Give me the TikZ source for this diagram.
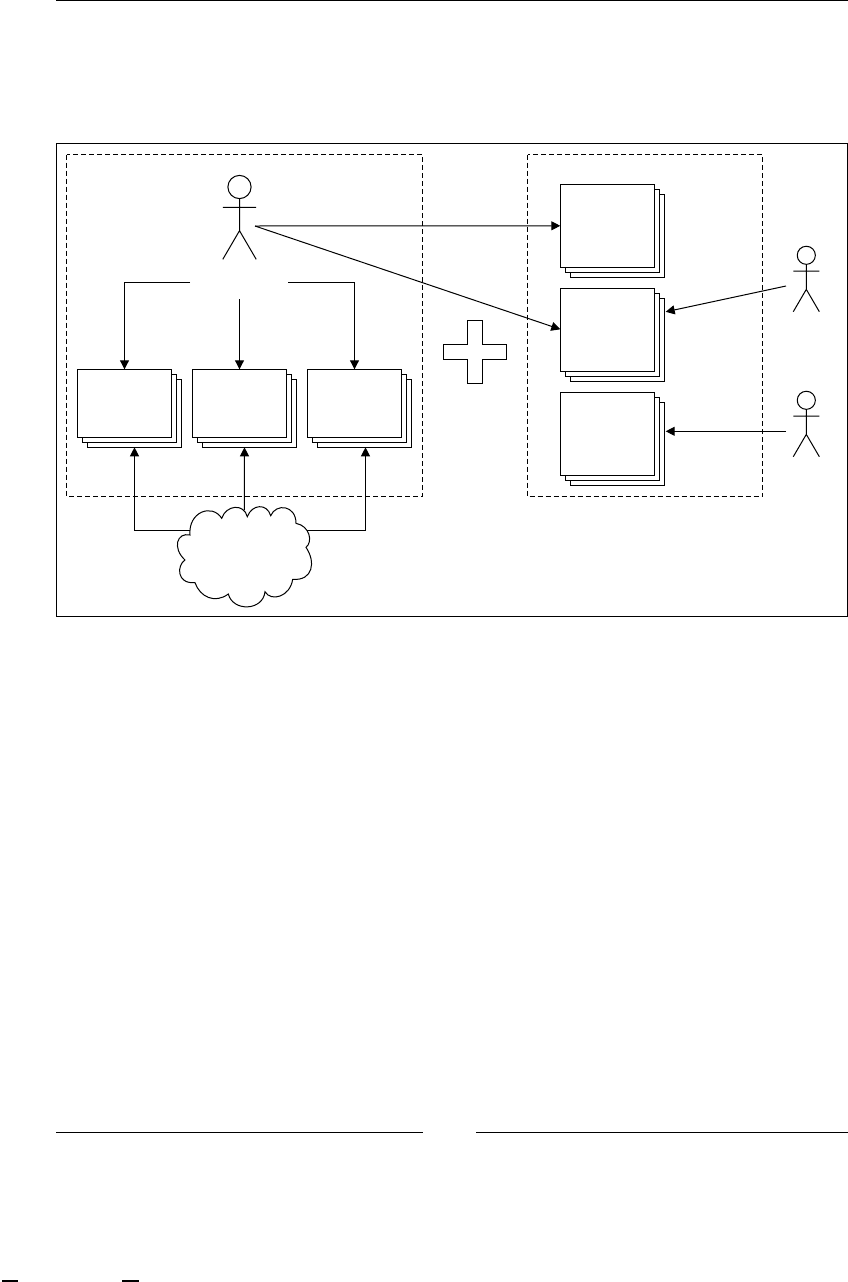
\documentclass[tikz,border=0pt]{standalone}
\usepackage{tikz}
\usetikzlibrary{arrows.meta, positioning, calc, shadows}

\tikzset{
    actor/.pic={
        \draw[fig] (0,0) circle (11.6);
        \draw[fig] (0,11.6) -- (0,43.7) -- (-16.7,72.3) (0,43.7) -- (16.7,72.3) (-16.7,20.3) -- (16.7,20.3);
    }
}

\begin{document}
\begin{tikzpicture}[
        x=1pt, y=-1pt,
        fig/.style={draw, line width=1pt},
        docs/.style={fig, fill=white, outer sep=0pt, inner sep=0pt, double copy shadow={shadow xshift=5pt, shadow yshift=-5pt, fill=white, draw, line width=1pt}},
        wide/.style={docs, minimum width=94.4pt, minimum height=68pt},
        tall/.style={docs, minimum width=94.4pt, minimum height=83pt},
        arr/.style={-{Triangle[length=9pt, width=9pt]}, line width=1pt},
        group/.style={draw, line width=1pt, dash pattern=on 5pt off 3pt},
        rule/.style={line width=1.3pt}
    ]
    \useasboundingbox (0,0) rectangle (848,1282);
    \draw[rule] (56,0.5) -- (848,0.5);
    \draw[rule] (56,1132.5) -- (423,1132.5);
    \draw[rule] (476,1132.5) -- (848,1132.5);
    \fill (1.5,1280) rectangle (18,1282);
    \fill (122,1280) rectangle (139,1282);

    \draw[line width=1pt] (56.5,143.5) rectangle (847,616);
    \draw[group] (66.5,154.5) rectangle (422.5,496);
    \draw[group] (527.5,154.5) rectangle (762.5,496.5);

    % owner and the three stacks below
    \pic at (239.5,187) {actor};
    \node[wide] (repa) at (124.5,403.3) {};
    \node[wide, right=20.6pt of repa] (repb) {};
    \node[wide, right=20.6pt of repb] (repc) {};

    % stacks on the right
    \node[tall] (taska) at (607.5,225.8) {};
    \node[tall, below=21pt of taska] (taskb) {};
    \node[tall, below=21pt of taskb] (taskc) {};

    \pic[scale=0.78] at (806.3,255.3) {actor};
    \pic[scale=0.78] at (806.3,400.3) {actor};

    % plus sign
    \draw[fig] (467.3,320.3) -- (482.3,320.3) -- (482.3,344.3) -- (506.7,344.3) -- (506.7,359.3) -- (482.3,359.3)
        -- (482.3,383.7) -- (467.3,383.7) -- (467.3,359.3) -- (443.3,359.3) -- (443.3,344.3) -- (467.3,344.3) -- cycle;

    % cloud
    \draw[fig, fill=white] (190,535) .. controls (188,512) and (212,503) .. (221.7,518.3)
        .. controls (226,505) and (244,503) .. (247.3,516.7)
        .. controls (252,504) and (267,503) .. (270.7,515.7)
        .. controls (276,503) and (296,505) .. (296,523.3)
        .. controls (310,526) and (313,542) .. (306,547.3)
        .. controls (316,562) and (313,581) .. (292.7,579.3)
        .. controls (290,597) and (271,602) .. (265,591.7)
        .. controls (263,611) and (233,612) .. (228.3,594)
        .. controls (215,604) and (200,597) .. (195,582.7)
        .. controls (176,584) and (177,565) .. (185,560)
        .. controls (172,548) and (177,532) .. (190,535) -- cycle;

    \coordinate (owner) at (255,226);
    \coordinate (forka) at (190,282.3);
    \coordinate (forkb) at (239.5,299);
    \coordinate (forkc) at (288,282.3);
    \coordinate (userb) at (786,286);
    \coordinate (userc) at (786,431.3);
    \coordinate (cloudl) at (190,530.3);
    \coordinate (cloudm) at (244.3,510);
    \coordinate (cloudr) at (306.7,530.3);

    \draw[arr] (owner) -- (taska.west);
    \draw[arr] (owner) -- ($(taskb.west)+(0,-0.5)$);
    \draw[arr] (forka) -| (repa.north);
    \draw[arr] (forkb) -- (repb.north);
    \draw[arr] (forkc) -| (repc.north);
    \draw[arr] (cloudl) -| ($(repa.south)+(10,10)$);
    \draw[arr] (cloudm) -- ($(repb.south)+(5,10)$);
    \draw[arr] (cloudr) -| ($(repc.south)+(11,10)$);
    \draw[arr] (userb) -- ($(taskb.east)+(11,-18)$);
    \draw[arr] (userc) -- ($(taskc.east)+(11,-2.5)$);
\end{tikzpicture}
\end{document}
